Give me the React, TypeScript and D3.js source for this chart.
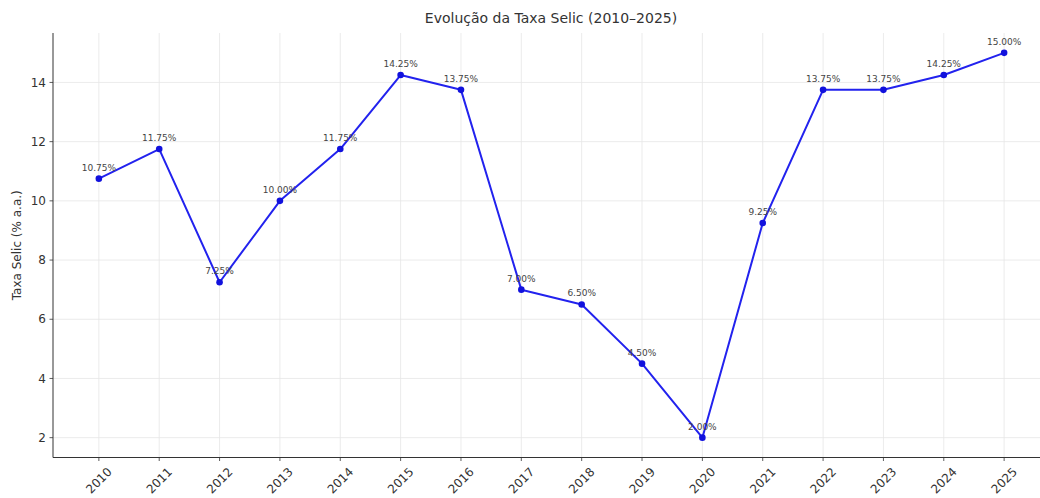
// Evolução da Taxa Selic — gráfico de linha com rótulos de valor
import React, { useEffect, useRef } from 'react';
import * as d3 from 'd3';

const years = ['2010', '2011', '2012', '2013', '2014', '2015', '2016', '2017', '2018', '2019', '2020', '2021', '2022', '2023', '2024', '2025'];
const selic = [10.75, 11.75, 7.25, 10.0, 11.75, 14.25, 13.75, 7.0, 6.5, 4.5, 2.0, 9.25, 13.75, 13.75, 14.25, 15.0];
const yTicks = [2, 4, 6, 8, 10, 12, 14];

const W = 1040;
const H = 498;

const App: React.FC = () => {
  const svgRef = useRef<SVGSVGElement>(null);

  useEffect(() => {
    if (!svgRef.current) return;
    const svg = d3.select(svgRef.current);
    svg.selectAll('*').remove();

    const left = 53;
    const top = 33;
    const bottom = 457.5;
    const right = 1050; // área do gráfico corta na borda direita

    const x = d3.scaleLinear().domain([-0.76, years.length - 1 + 0.76]).range([left, right]);
    const y = d3.scaleLinear().domain([1.33, 15.67]).range([bottom, top]);

    const font = 'DejaVu Sans, sans-serif';

    // grade
    const grid = svg.append('g').attr('stroke', '#e6e6e6').attr('stroke-width', 0.8);
    years.forEach((_, i) => {
      grid.append('line').attr('x1', x(i)).attr('x2', x(i)).attr('y1', top).attr('y2', bottom);
    });
    yTicks.forEach((t) => {
      grid.append('line').attr('x1', left).attr('x2', right).attr('y1', y(t)).attr('y2', y(t));
    });

    // eixo Y
    const yAxis = svg.append('g');
    yTicks.forEach((t) => {
      yAxis.append('line').attr('x1', left - 3.5).attr('x2', left).attr('y1', y(t)).attr('y2', y(t)).attr('stroke', '#333').attr('stroke-width', 0.8);
      yAxis.append('text')
        .attr('x', left - 7).attr('y', y(t)).attr('dy', '0.35em')
        .attr('text-anchor', 'end')
        .attr('font-family', font).attr('font-size', 12).attr('fill', '#333')
        .text(String(t));
    });

    // eixo X
    const xAxis = svg.append('g');
    years.forEach((yr, i) => {
      xAxis.append('line').attr('x1', x(i)).attr('x2', x(i)).attr('y1', bottom).attr('y2', bottom + 3.5).attr('stroke', '#333').attr('stroke-width', 0.8);
      xAxis.append('text')
        .attr('transform', `translate(${x(i)},${bottom + 23}) rotate(-45)`)
        .attr('text-anchor', 'middle').attr('dy', '0.35em')
        .attr('font-family', font).attr('font-size', 12).attr('fill', '#333')
        .text(yr);
    });

    // spines
    svg.append('line').attr('x1', left).attr('x2', left).attr('y1', top).attr('y2', bottom).attr('stroke', '#333').attr('stroke-width', 1);
    svg.append('line').attr('x1', left).attr('x2', right).attr('y1', bottom).attr('y2', bottom).attr('stroke', '#333').attr('stroke-width', 1);

    // linha
    const line = d3.line<number>().x((_, i) => x(i)).y((d) => y(d));
    svg.append('path')
      .datum(selic)
      .attr('d', line)
      .attr('fill', 'none')
      .attr('stroke', '#2222ee')
      .attr('stroke-width', 2)
      .attr('stroke-linejoin', 'round');

    svg.selectAll('.dot')
      .data(selic)
      .enter()
      .append('circle')
      .attr('cx', (_, i) => x(i))
      .attr('cy', (d) => y(d))
      .attr('r', 3.3)
      .attr('fill', '#1111dd');

    // rótulos
    svg.selectAll('.lbl')
      .data(selic)
      .enter()
      .append('text')
      .attr('x', (_, i) => x(i))
      .attr('y', (d) => y(d) - 8)
      .attr('text-anchor', 'middle')
      .attr('font-family', font).attr('font-size', 9).attr('fill', '#444')
      .text((d) => `${d.toFixed(2)}%`);

    // título e rótulo do eixo
    svg.append('text')
      .attr('x', 551).attr('y', 23)
      .attr('text-anchor', 'middle')
      .attr('font-family', font).attr('font-size', 14).attr('fill', '#333')
      .text('Evolução da Taxa Selic (2010–2025)');

    svg.append('text')
      .attr('transform', `translate(21,${(top + bottom) / 2}) rotate(-90)`)
      .attr('text-anchor', 'middle')
      .attr('font-family', font).attr('font-size', 12).attr('fill', '#333')
      .text('Taxa Selic (% a.a.)');
  }, []);

  return (
    <svg
      ref={svgRef}
      width={W}
      height={H}
      style={{ position: 'absolute', left: 0, top: 0, background: '#fff' }}
    />
  );
};

export default App;
